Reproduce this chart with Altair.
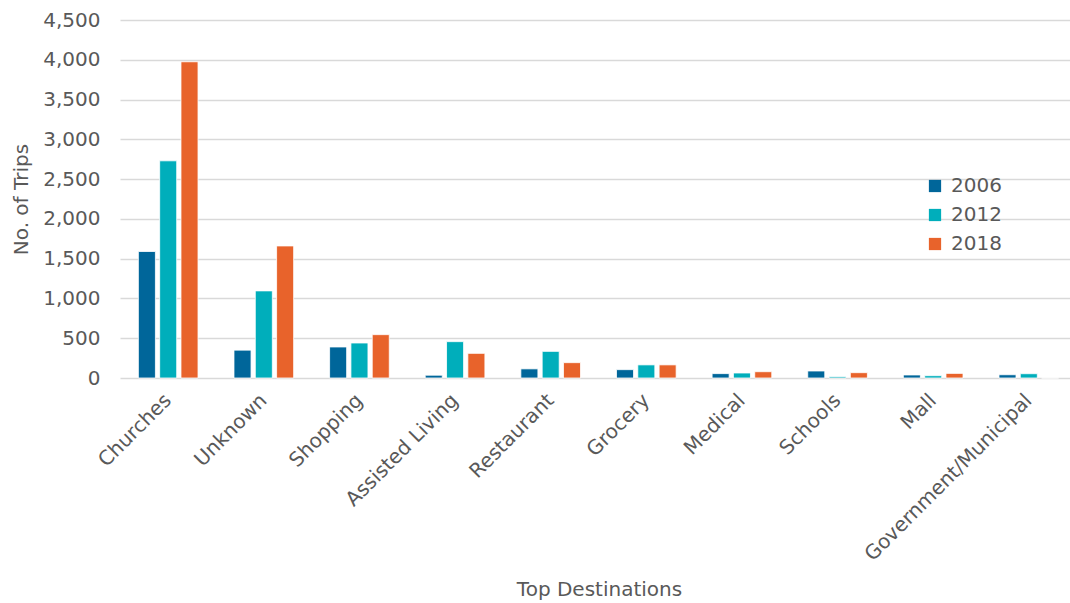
import altair as alt
import pandas as pd

# Trip counts by destination type for three survey years
destinations = [
    "Churches", "Unknown", "Shopping", "Assisted Living", "Restaurant",
    "Grocery", "Medical", "Schools", "Mall", "Government/Municipal",
]
years = ["2006", "2012", "2018"]
trips_2006 = [1590, 350, 390, 35, 115, 105, 55, 88, 38, 41]
trips_2012 = [2730, 1095, 440, 457, 335, 165, 63, 16, 29, 54]
trips_2018 = [3975, 1660, 545, 310, 193, 165, 79, 67, 58, 0]
colors = ["#00669A", "#00AEBB", "#E8632B"]
y_ticks = list(range(0, 4501, 500))

rows = []
for year, series in zip(years, [trips_2006, trips_2012, trips_2018]):
    for dest, val in zip(destinations, series):
        rows.append({"Destination": dest, "Year": year, "Trips": val})
df = pd.DataFrame(rows)

TEXT = "#595959"
FONT = "DejaVu Sans"

chart = (
    alt.Chart(df)
    .mark_bar(stroke="white", strokeWidth=0.8)
    .encode(
        x=alt.X(
            "Destination:N",
            sort=destinations,
            scale=alt.Scale(paddingInner=0.376, paddingOuter=0.192, range=[0, 957]),
            axis=alt.Axis(
                title="Top Destinations",
                labelAngle=-45,
                labelAlign="right",
                labelBaseline="middle",
                labelPadding=19,
                labelLimit=0,
                ticks=False,
                domain=False,
                grid=False,
                titleX=479,
                titleY=211,
                titleBaseline="middle",
                titleAlign="center",
            ),
        ),
        xOffset=alt.XOffset(
            "Year:N", sort=years, scale=alt.Scale(paddingInner=0.2, paddingOuter=0)
        ),
        y=alt.Y(
            "Trips:Q",
            scale=alt.Scale(domain=[0, 4500], nice=False),
            axis=alt.Axis(
                title="No. of Trips",
                values=y_ticks,
                format=",d",
                ticks=False,
                domain=False,
                labelPadding=20,
                titleX=-99,
                titleY=179,
                titleAngle=-90,
                titleAlign="center",
                titleBaseline="middle",
            ),
        ),
        color=alt.Color(
            "Year:N",
            sort=years,
            scale=alt.Scale(domain=years, range=colors),
            legend=alt.Legend(
                title=None,
                orient="none",
                legendX=805,
                legendY=156,
                symbolType="square",
                symbolSize=150,
                symbolStrokeWidth=0,
                rowPadding=9,
                labelOffset=6,
            ),
        ),
    )
    .properties(
        width=950,
        height=358,
        autosize=alt.AutoSizeParams(type="none"),
        padding={"left": 120, "top": 20, "right": 0, "bottom": 225},
    )
    .configure_view(stroke=None)
    .configure_axis(
        labelFont=FONT,
        titleFont=FONT,
        labelFontSize=20,
        titleFontSize=20,
        labelColor=TEXT,
        titleColor=TEXT,
        titleFontWeight="normal",
        gridColor="#D9D9D9",
        gridWidth=1.5,
    )
    .configure_legend(
        labelFont=FONT,
        labelFontSize=20,
        labelColor=TEXT,
    )
)

chart.save("out.html", embed_options={"renderer": "svg", "actions": False})
